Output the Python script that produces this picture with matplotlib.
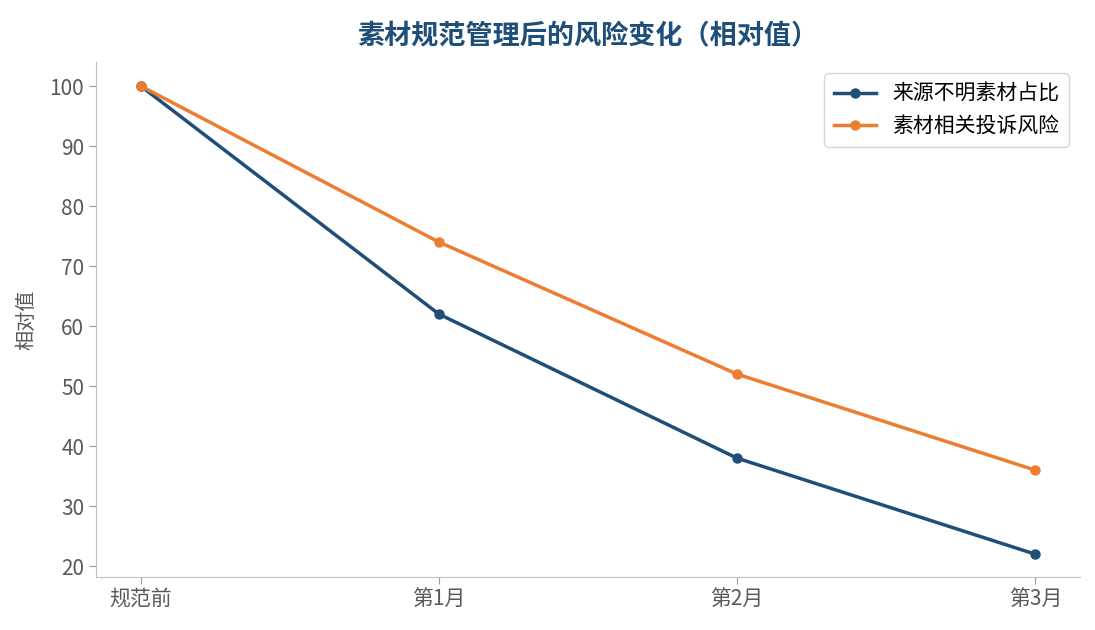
import matplotlib.pyplot as plt

plt.rcParams['font.family'] = ['Noto Sans CJK SC', 'DejaVu Sans']

# data
periods = ['规范前', '第1月', '第2月', '第3月']
unknown_source = [100, 62, 38, 22]
complaint_risk = [100, 74, 52, 36]

fig = plt.figure(figsize=(10.95, 6.3), dpi=100)
ax = fig.add_axes([96 / 1095, 1 - 577 / 630, (1080 - 96) / 1095, (577 - 62) / 630])

x = list(range(len(periods)))
ax.plot(x, unknown_source, color='#1f4e79', linewidth=2.5, marker='o', markersize=6.5,
        label='来源不明素材占比')
ax.plot(x, complaint_risk, color='#ed7d31', linewidth=2.5, marker='o', markersize=6.5,
        label='素材相关投诉风险')

ax.set_xlim(-0.15, 3.15)
ax.set_ylim(18.2, 104)
ax.set_xticks(x)
ax.set_xticklabels(periods)
ax.set_yticks(range(20, 101, 10))
ax.tick_params(colors='#595959', labelsize=15, length=5, color='#999999')
ax.set_ylabel('相对值', color='#595959', fontsize=14.5, labelpad=9)

for s in ['top', 'right']:
    ax.spines[s].set_visible(False)
for s in ['left', 'bottom']:
    ax.spines[s].set_color('#bfbfbf')

ax.set_title('素材规范管理后的风险变化（相对值）', color='#1f4e79', fontsize=19.5,
             fontweight='bold', pad=13)

leg = ax.legend(loc='upper right', fontsize=15, frameon=True, fancybox=True,
                borderaxespad=0.55, labelspacing=0.5, borderpad=0.45)
leg.get_frame().set_edgecolor('#cccccc')

fig.savefig('out.png', dpi=100)
